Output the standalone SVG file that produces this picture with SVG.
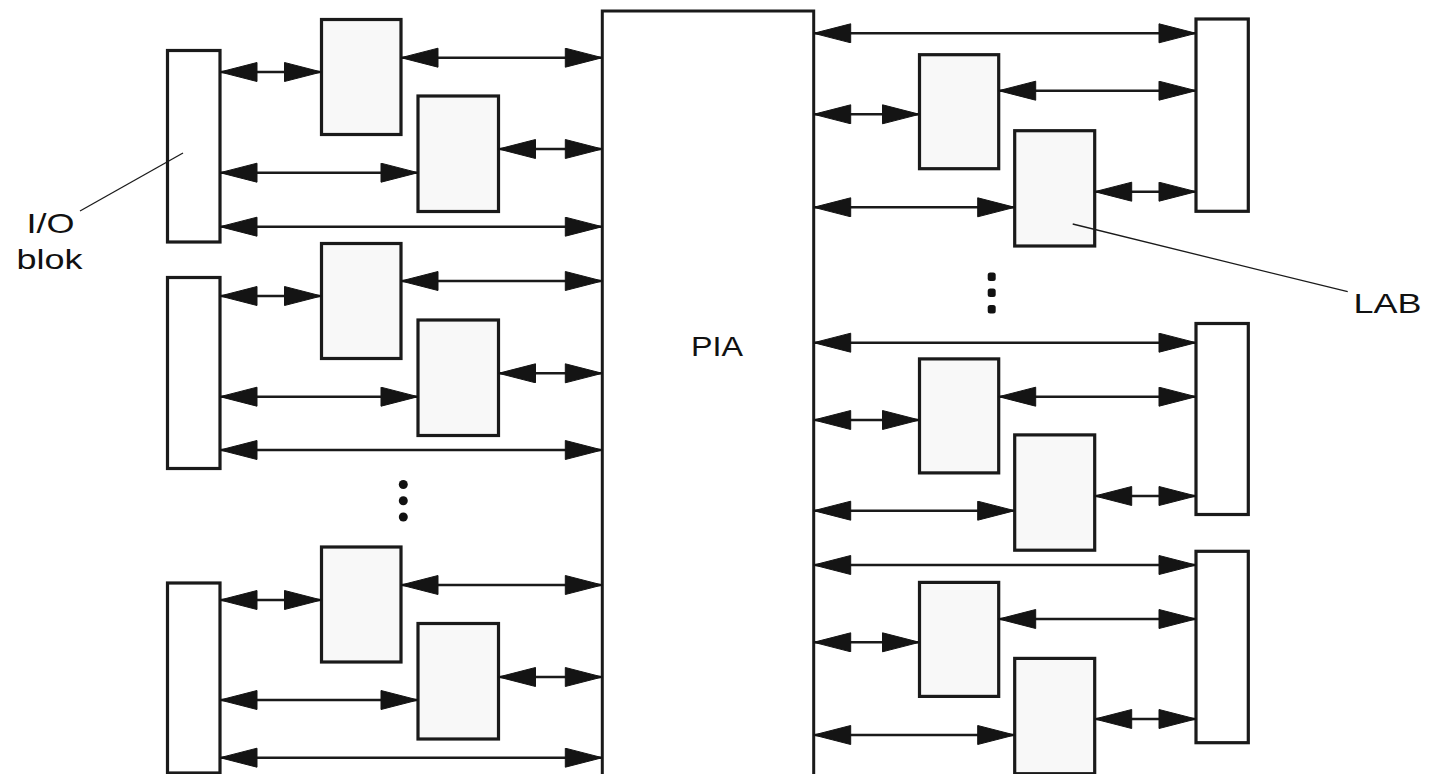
<svg xmlns="http://www.w3.org/2000/svg" width="1432" height="774" viewBox="0 0 1432 774">
<style>
.io{fill:#ffffff;stroke:#1a1a1a;stroke-width:3.2}
.lab{fill:#f8f8f8;stroke:#1a1a1a;stroke-width:3.2}
.pia{fill:#ffffff;stroke:#1a1a1a;stroke-width:3}
.c line{stroke:#1a1a1a;stroke-width:2.4;marker-start:url(#ah);marker-end:url(#ah)}
.lead{stroke:#1a1a1a;stroke-width:1.3;fill:none}
.t{font-family:"Liberation Sans",Arial,sans-serif;font-size:28px;fill:#111}
.dot{fill:#111}
</style>
<defs>
<marker id="ah" markerUnits="userSpaceOnUse" markerWidth="42" markerHeight="24" refX="38" refY="10" orient="auto-start-reverse">
<path d="M1,0.5 L38,10 L1,19.5 Z" fill="#141414" stroke="#141414" stroke-width="1" stroke-linejoin="round"/>
</marker>
</defs>
<rect width="1432" height="774" fill="#ffffff"/>

<g id="pia">
<path class="pia" d="M602.3,776 V11 H813.7 V776"/>
<text class="t" x="691" y="356" font-size="30" fill="#333" textLength="52" lengthAdjust="spacingAndGlyphs">PIA</text>
</g>

<g id="io-l1"><rect class="io" x="167.5" y="50.5" width="52.5" height="191.5"/></g>
<g id="lab-l1a"><rect class="lab" x="321.5" y="19.5" width="79.5" height="115"/></g>
<g id="lab-l1b"><rect class="lab" x="418" y="96" width="80.5" height="115.5"/></g>

<g id="io-l2"><rect class="io" x="167.5" y="277.5" width="52.5" height="191"/></g>
<g id="lab-l2a"><rect class="lab" x="321.5" y="243.5" width="79.5" height="115"/></g>
<g id="lab-l2b"><rect class="lab" x="418" y="320" width="80.5" height="115.5"/></g>

<g id="io-l3"><rect class="io" x="167.5" y="583" width="52.5" height="190"/></g>
<g id="lab-l3a"><rect class="lab" x="321.5" y="547" width="79.5" height="115"/></g>
<g id="lab-l3b"><rect class="lab" x="418" y="623.5" width="80.5" height="115.5"/></g>

<g id="io-r1"><rect class="io" x="1196" y="19" width="52.3" height="192.3"/></g>
<g id="lab-r1a"><rect class="lab" x="919.5" y="54.7" width="79.2" height="114"/></g>
<g id="lab-r1b"><rect class="lab" x="1014.7" y="130.7" width="80" height="115.3"/></g>

<g id="io-r2"><rect class="io" x="1196" y="323.5" width="52.3" height="191"/></g>
<g id="lab-r2a"><rect class="lab" x="919.5" y="358.9" width="79.2" height="114"/></g>
<g id="lab-r2b"><rect class="lab" x="1014.7" y="434.9" width="80" height="115.3"/></g>

<g id="io-r3"><rect class="io" x="1196" y="551.3" width="52.3" height="191.4"/></g>
<g id="lab-r3a"><rect class="lab" x="919.5" y="582.4" width="79.2" height="114"/></g>
<g id="lab-r3b"><rect class="lab" x="1014.7" y="658.4" width="80" height="115.3"/></g>

<g id="connectors" class="c">
<line x1="220" y1="72" x2="321.5" y2="72"/>
<line x1="401" y1="57.7" x2="602.3" y2="57.7"/>
<line x1="498.5" y1="149" x2="602.3" y2="149"/>
<line x1="220" y1="172.7" x2="418" y2="172.7"/>
<line x1="220" y1="226.7" x2="602.3" y2="226.7"/>

<line x1="220" y1="296" x2="321.5" y2="296"/>
<line x1="401" y1="281" x2="602.3" y2="281"/>
<line x1="498.5" y1="373.3" x2="602.3" y2="373.3"/>
<line x1="220" y1="396.7" x2="418" y2="396.7"/>
<line x1="220" y1="450" x2="602.3" y2="450"/>

<line x1="220" y1="600" x2="321.5" y2="600"/>
<line x1="401" y1="585" x2="602.3" y2="585"/>
<line x1="498.5" y1="677" x2="602.3" y2="677"/>
<line x1="220" y1="700" x2="418" y2="700"/>
<line x1="220" y1="757.7" x2="602.3" y2="757.7"/>

<line x1="813.7" y1="33.3" x2="1196" y2="33.3"/>
<line x1="998.7" y1="90.7" x2="1196" y2="90.7"/>
<line x1="813.7" y1="114.3" x2="919.5" y2="114.3"/>
<line x1="1094.7" y1="191.7" x2="1196" y2="191.7"/>
<line x1="813.7" y1="207.3" x2="1014.7" y2="207.3"/>

<line x1="813.7" y1="342.7" x2="1196" y2="342.7"/>
<line x1="998.7" y1="396.7" x2="1196" y2="396.7"/>
<line x1="813.7" y1="420" x2="919.5" y2="420"/>
<line x1="1094.7" y1="496" x2="1196" y2="496"/>
<line x1="813.7" y1="510.7" x2="1014.7" y2="510.7"/>

<line x1="813.7" y1="565" x2="1196" y2="565"/>
<line x1="998.7" y1="619" x2="1196" y2="619"/>
<line x1="813.7" y1="642.3" x2="919.5" y2="642.3"/>
<line x1="1094.7" y1="719" x2="1196" y2="719"/>
<line x1="813.7" y1="735" x2="1014.7" y2="735"/>
</g>

<g id="dots-left">
<circle class="dot" cx="403.3" cy="484.5" r="4.5"/>
<circle class="dot" cx="403.3" cy="500.8" r="4.5"/>
<circle class="dot" cx="403.3" cy="517" r="4.5"/>
</g>
<g id="dots-right">
<rect class="dot" x="987.7" y="272.5" width="8" height="8.5" rx="2.5"/>
<rect class="dot" x="987.7" y="288.5" width="8" height="8.5" rx="2.5"/>
<rect class="dot" x="987.7" y="305" width="8" height="8.5" rx="2.5"/>
</g>

<g id="label-io">
<line class="lead" x1="80" y1="211" x2="183" y2="153"/>
<text class="t" x="26.5" y="233" textLength="48" lengthAdjust="spacingAndGlyphs">I/O</text>
<text class="t" x="16.5" y="269" textLength="66" lengthAdjust="spacingAndGlyphs">blok</text>
</g>
<g id="label-lab">
<line class="lead" x1="1072.7" y1="224" x2="1347.7" y2="291.7"/>
<text class="t" x="1353.5" y="313" textLength="68" lengthAdjust="spacingAndGlyphs">LAB</text>
</g>
</svg>
